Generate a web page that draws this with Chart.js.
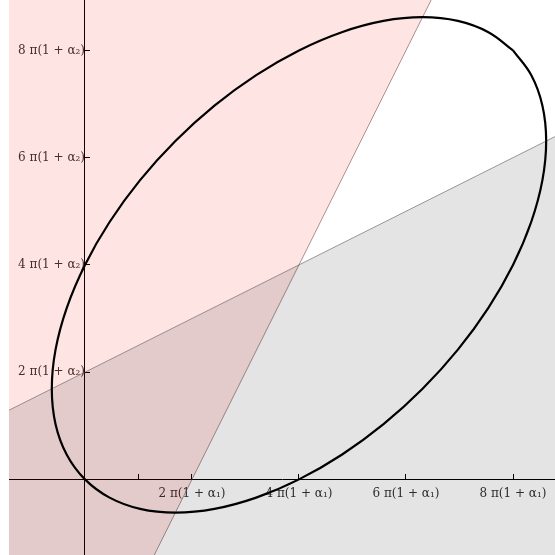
<!DOCTYPE html>
<html>
<head>
<meta charset="utf-8">
<script src="https://cdn.jsdelivr.net/npm/chart.js@4/dist/chart.umd.min.js"></script>
<style>
html,body{margin:0;padding:0;background:#fff;}
#wrap{width:555px;height:555px;}
</style>
</head>
<body>
<div id="wrap"><canvas id="c" width="555" height="555"></canvas></div>
<script>
// Units: multiples of pi(1+alpha1) on x, pi(1+alpha2) on y
const xTickValues = [1, 2, 4, 6, 8];
const xTickLabels = ['', '2 π(1 + α₁)', '4 π(1 + α₁)', '6 π(1 + α₁)', '8 π(1 + α₁)'];
const yTickValues = [2, 4, 6, 8];
const yTickLabels = ['2 π(1 + α₂)', '4 π(1 + α₂)', '6 π(1 + α₂)', '8 π(1 + α₂)'];

// Ellipse outline
const ellipseX = [8.00, 8.34, 8.55, 8.62, 8.55, 8.34, 8.00, 7.54, 6.97, 6.31, 5.58, 4.80, 4.00, 3.20, 2.42, 1.69, 1.03, 0.46, 0.00, -0.34, -0.55, -0.62, -0.55, -0.34, 0.00, 0.46, 1.03, 1.69, 2.42, 3.20, 4.00, 4.80, 5.58, 6.31, 6.97, 7.54, 8.00];
const ellipseY = [8.00, 7.54, 6.97, 6.31, 5.58, 4.80, 4.00, 3.20, 2.42, 1.69, 1.03, 0.46, 0.00, -0.34, -0.55, -0.62, -0.55, -0.34, 0.00, 0.46, 1.03, 1.69, 2.42, 3.20, 4.00, 4.80, 5.58, 6.31, 6.97, 7.54, 8.00, 8.34, 8.55, 8.62, 8.55, 8.34, 8.00];

// Steep boundary (pink region to its left/above)
const steepX = [-3, 10];
const steepY = [-10, 16];
// Shallow boundary (grey region below)
const shallowX = [-3, 10];
const shallowY = [0.5, 7];

const xRange = [-1.42, 8.785];
const yRange = [-1.41, 8.94];

const toPts = (xs, ys) => xs.map((x, i) => ({x: x, y: ys[i]}));

const bg = {
  id: 'bg',
  beforeDraw(chart) {
    const ctx = chart.ctx;
    ctx.save();
    ctx.fillStyle = '#ffffff';
    ctx.fillRect(0, 0, chart.width, chart.height);
    ctx.restore();
  }
};

const labelFont = {family: 'DejaVu Serif', size: 12};

new Chart(document.getElementById('c'), {
  type: 'scatter',
  data: {
    datasets: [
      {
        data: toPts(steepX, steepY),
        showLine: true,
        fill: 'end',
        backgroundColor: 'rgba(255,0,0,0.105)',
        borderColor: 'rgba(110,80,80,0.6)',
        borderWidth: 1,
        pointRadius: 0,
        order: 3
      },
      {
        data: toPts(shallowX, shallowY),
        showLine: true,
        fill: 'start',
        backgroundColor: 'rgba(0,0,0,0.105)',
        borderColor: 'rgba(90,90,90,0.6)',
        borderWidth: 1,
        pointRadius: 0,
        order: 2
      },
      {
        data: toPts(ellipseX, ellipseY),
        showLine: true,
        fill: false,
        borderColor: '#000000',
        borderWidth: 2.2,
        tension: 0.4,
        pointRadius: 0,
        order: 1
      }
    ]
  },
  options: {
    responsive: false,
    animation: false,
    layout: {padding: {left: 9, top: 0, right: 0, bottom: 0}},
    plugins: {legend: {display: false}, tooltip: {enabled: false}},
    scales: {
      x: {
        type: 'linear',
        min: xRange[0], max: xRange[1],
        position: {y: 0},
        afterFit(s) { s.height = 0; s.paddingLeft = 0; s.paddingRight = 0; s.paddingTop = 0; s.paddingBottom = 0; },
        afterBuildTicks(s) { s.ticks = xTickValues.map(v => ({value: v})); },
        grid: {drawOnChartArea: false, drawTicks: true, tickLength: -6, color: '#000', tickWidth: 1},
        border: {display: true, color: '#000', width: 1},
        ticks: {
          autoSkip: false, maxRotation: 0, padding: 13,
          color: '#333333', font: labelFont,
          callback(v) { const i = xTickValues.indexOf(v); return i >= 0 ? xTickLabels[i] : ''; }
        }
      },
      y: {
        type: 'linear',
        min: yRange[0], max: yRange[1],
        position: {x: 0},
        afterFit(s) { s.width = 0; s.paddingLeft = 0; s.paddingRight = 0; s.paddingTop = 0; s.paddingBottom = 0; },
        afterBuildTicks(s) { s.ticks = yTickValues.map(v => ({value: v})); },
        grid: {drawOnChartArea: false, drawTicks: true, tickLength: -6, color: '#000', tickWidth: 1},
        border: {display: true, color: '#000', width: 1},
        ticks: {
          autoSkip: false, padding: 5,
          color: '#333333', font: labelFont,
          callback(v) { const i = yTickValues.indexOf(v); return i >= 0 ? yTickLabels[i] : ''; }
        }
      }
    }
  },
  plugins: [bg]
});
</script>
</body>
</html>
